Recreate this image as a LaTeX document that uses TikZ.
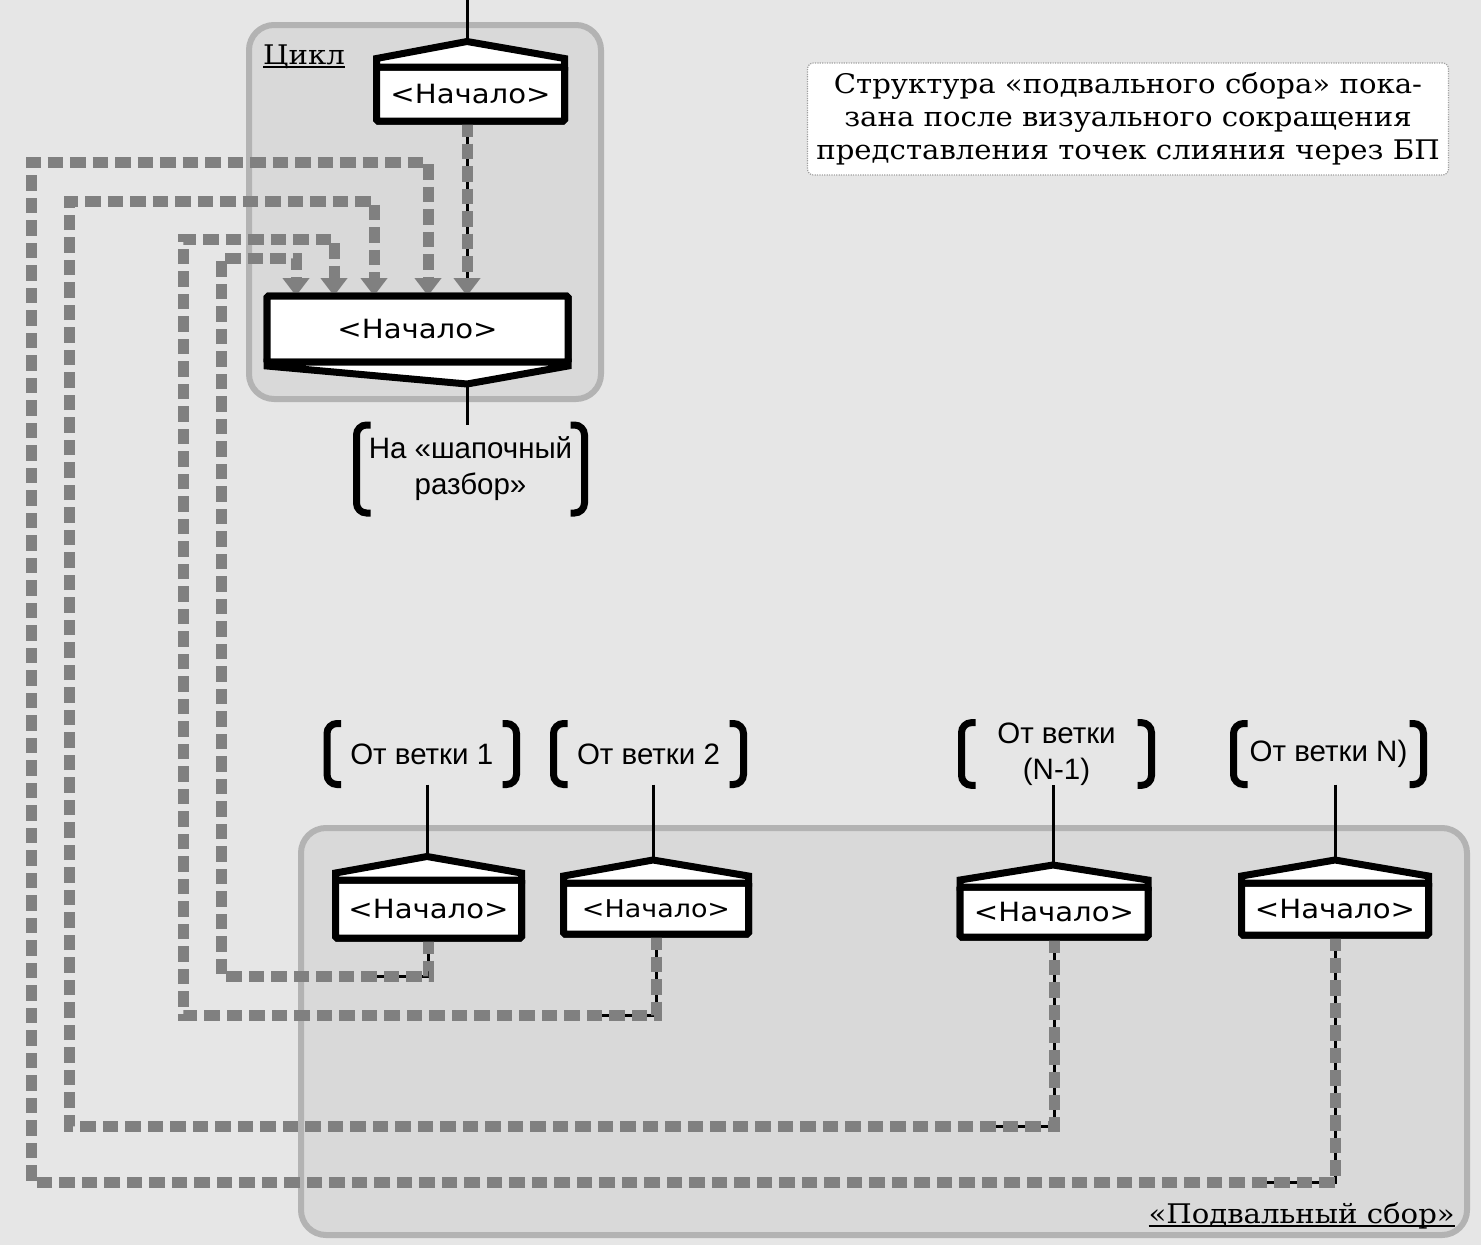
\documentclass[tikz,border=0pt]{standalone}
\usepackage{fontspec}
\setmainfont[FakeStretch=1.08]{DejaVu Serif}
\newfontfamily\nachfont[FakeStretch=1.1]{DejaVu Sans}
\newfontfamily\labfont{Liberation Sans}
\usetikzlibrary{calc,arrows.meta}
\definecolor{bgc}{HTML}{E6E6E6}
\definecolor{grpfill}{HTML}{D9D9D9}
\definecolor{grpline}{HTML}{B3B3B3}
\definecolor{flowc}{HTML}{808080}
\definecolor{notedot}{HTML}{A0A0A0}
\newcommand{\myul}[1]{\setbox0\hbox{#1}\rlap{\rule[-4pt]{\wd0}{1.8pt}}\box0}
\newcommand{\drawbrk}[1]{%
  \draw[brk] ($(#1.north west)+(14,0)$) -- (#1.north west) -- (#1.south west) -- ($(#1.south west)+(14,0)$);
  \draw[brk] ($(#1.north east)+(-14,0)$) -- (#1.north east) -- (#1.south east) -- ($(#1.south east)+(-14,0)$);}
\begin{document}
\begin{tikzpicture}[x=1pt,y=-1pt,
  grp/.style={draw=grpline, line width=6pt, fill=grpfill, rounded corners=25pt},
  gtitle/.style={font=\fontsize{27}{30}\selectfont, inner sep=0pt},
  note/.style={draw=notedot, line width=1.2pt, dash pattern=on 1.2pt off 1.2pt, fill=white, rounded corners=6pt, align=center, font=\fontsize{27}{33}\selectfont, minimum width=641pt, minimum height=112pt, inner sep=0pt},
  nbox/.style={draw, line width=7pt, fill=white, rounded corners=1.5pt, inner sep=0pt, outer sep=0pt, font=\nachfont\fontsize{26.5}{30}\selectfont},
  ncap/.style={draw, fill=white, line width=7pt, line join=miter},
  lab/.style={inner sep=0pt, outer sep=0pt, align=center, font=\labfont\fontsize{29.5}{36}\selectfont},
  brk/.style={line width=7pt, rounded corners=10pt},
  wire/.style={line width=3pt},
  flow/.style={draw=flowc, line width=11pt, dash pattern=on 15.5pt off 7pt},
  flowarr/.style={flow, -{Triangle[width=26pt,length=18pt]}}
]
\useasboundingbox (0,0) rectangle (1481,1245);
\fill[bgc] (0,0) rectangle (1481,1245);

% groups
\draw[grp] (249,25) rectangle (601,399);
\draw[grp] (301,828) rectangle (1467,1235);
\node[gtitle, anchor=base west] (tcyc) at (263,64) {\myul{Цикл}};
\node[gtitle, anchor=base east] (tfoot) at (1455,1223) {\myul{«Подвальный сбор»}};

% note
\node[note] (note) at (1128,119) {Структура «подвального сбора» пока-\\зана после визуального сокращения\\представления точек слияния через БП};

% coordinates
\coordinate (topin) at (467,0);
\coordinate (s0p) at (467,41.5);
\coordinate (s1p) at (467,384);
\coordinate (b1p) at (427,856.5);
\coordinate (b2p) at (653,860);
\coordinate (b3p) at (1053,865);
\coordinate (b4p) at (1335,860);
\coordinate (a1) at (296,258);
\coordinate (a2) at (334,239);
\coordinate (a3) at (374,201);
\coordinate (a4) at (428,162);

% nodes
\node[nbox, minimum width=188pt, minimum height=54pt] (s0) at (470.5,94) {<Начало>};
\node[nbox, minimum width=301pt, minimum height=66pt] (s1) at (417.5,329) {<Начало>};
\node[nbox, minimum width=186pt, minimum height=58pt] (b1) at (428.5,909) {<Начало>};
\node[nbox, minimum width=185pt, minimum height=51pt, font=\nachfont\fontsize{24.5}{28}\selectfont] (b2) at (656,908.5) {<Начало>};
\node[nbox, minimum width=188pt, minimum height=50pt] (b3) at (1054,912) {<Начало>};
\node[nbox, minimum width=187pt, minimum height=52pt] (b4) at (1335,909) {<Начало>};

% labels
\node[lab, minimum width=228pt, minimum height=88pt] (lab0) at (470.5,469) {На «шапочный\\разбор»};
\node[lab, minimum width=189.5pt, minimum height=61pt] (lab1) at (421.75,754) {От ветки 1};
\node[lab, minimum width=190pt, minimum height=61pt] (lab2) at (648.5,754) {От ветки 2};
\node[lab, minimum width=190pt, minimum height=61pt] (lab3) at (1056.5,754) {От ветки\\(N-1)};
\node[lab, minimum width=190pt, minimum height=61pt] (lab4) at (1328.5,754) {От ветки N)};
\drawbrk{lab0}
\drawbrk{lab1}
\drawbrk{lab2}
\drawbrk{lab3}
\drawbrk{lab4}

% black wires
\draw[wire] (topin) -- (s0p);
\draw[wire] (s1p) -- (s1p |- lab0.north);
\draw[wire] (lab1.south -| b1p) -- (b1p);
\draw[wire] (lab2.south -| b2p) -- (b2p);
\draw[wire] (lab3.south -| b3p) -- (b3p);
\draw[wire] (lab4.south -| b4p) -- (b4p);
\draw[wire] (s0.south -| s0p) -- (s1.north -| s0p);
\draw[wire] (b1.south) |- (373,976);
\draw[wire] (b2.south) |- (600,1015);
\draw[wire] (b3.south) |- (995,1126);
\draw[wire] (b4.south) |- (1260,1182);

% dashed flows
\draw[flowarr] (s0.south -| s0p) -- (s1.north -| s0p);
\draw[flowarr] (b1.south) |- (221,976) |- (a1) -- (a1 |- s1.north);
\draw[flowarr] (b2.south) |- (183,1015) |- (a2) -- (a2 |- s1.north);
\draw[flowarr] (b3.south) |- (69,1126) |- (a3) -- (a3 |- s1.north);
\draw[flowarr] (b4.south) |- (31,1182) |- (a4) -- (a4 |- s1.north);

% redraw node boxes on top of flows
\node[nbox, minimum width=188pt, minimum height=54pt] at (s0) {<Начало>};
\node[nbox, minimum width=301pt, minimum height=66pt] at (s1) {<Начало>};
\node[nbox, minimum width=186pt, minimum height=58pt] at (b1) {<Начало>};
\node[nbox, minimum width=185pt, minimum height=51pt, font=\nachfont\fontsize{24.5}{28}\selectfont] at (b2) {<Начало>};
\node[nbox, minimum width=188pt, minimum height=50pt] at (b3) {<Начало>};
\node[nbox, minimum width=187pt, minimum height=52pt] at (b4) {<Начало>};

% caps
\filldraw[ncap] (s0.north west) -- ++(0,-8.5) -- (s0p) -- ($(s0.north east)+(0,-8.5)$) -- (s0.north east) -- cycle;
\filldraw[ncap] (s1.south west) -- ++(0,4) -- (s1p) -- ($(s1.south east)+(0,4)$) -- (s1.south east) -- cycle;
\filldraw[ncap] (b1.north west) -- ++(0,-7) -- (b1p) -- ($(b1.north east)+(0,-7)$) -- (b1.north east) -- cycle;
\filldraw[ncap] (b2.north west) -- ++(0,-7) -- (b2p) -- ($(b2.north east)+(0,-7)$) -- (b2.north east) -- cycle;
\filldraw[ncap] (b3.north west) -- ++(0,-7) -- (b3p) -- ($(b3.north east)+(0,-7)$) -- (b3.north east) -- cycle;
\filldraw[ncap] (b4.north west) -- ++(0,-7) -- (b4p) -- ($(b4.north east)+(0,-7)$) -- (b4.north east) -- cycle;
\end{tikzpicture}
\end{document}
